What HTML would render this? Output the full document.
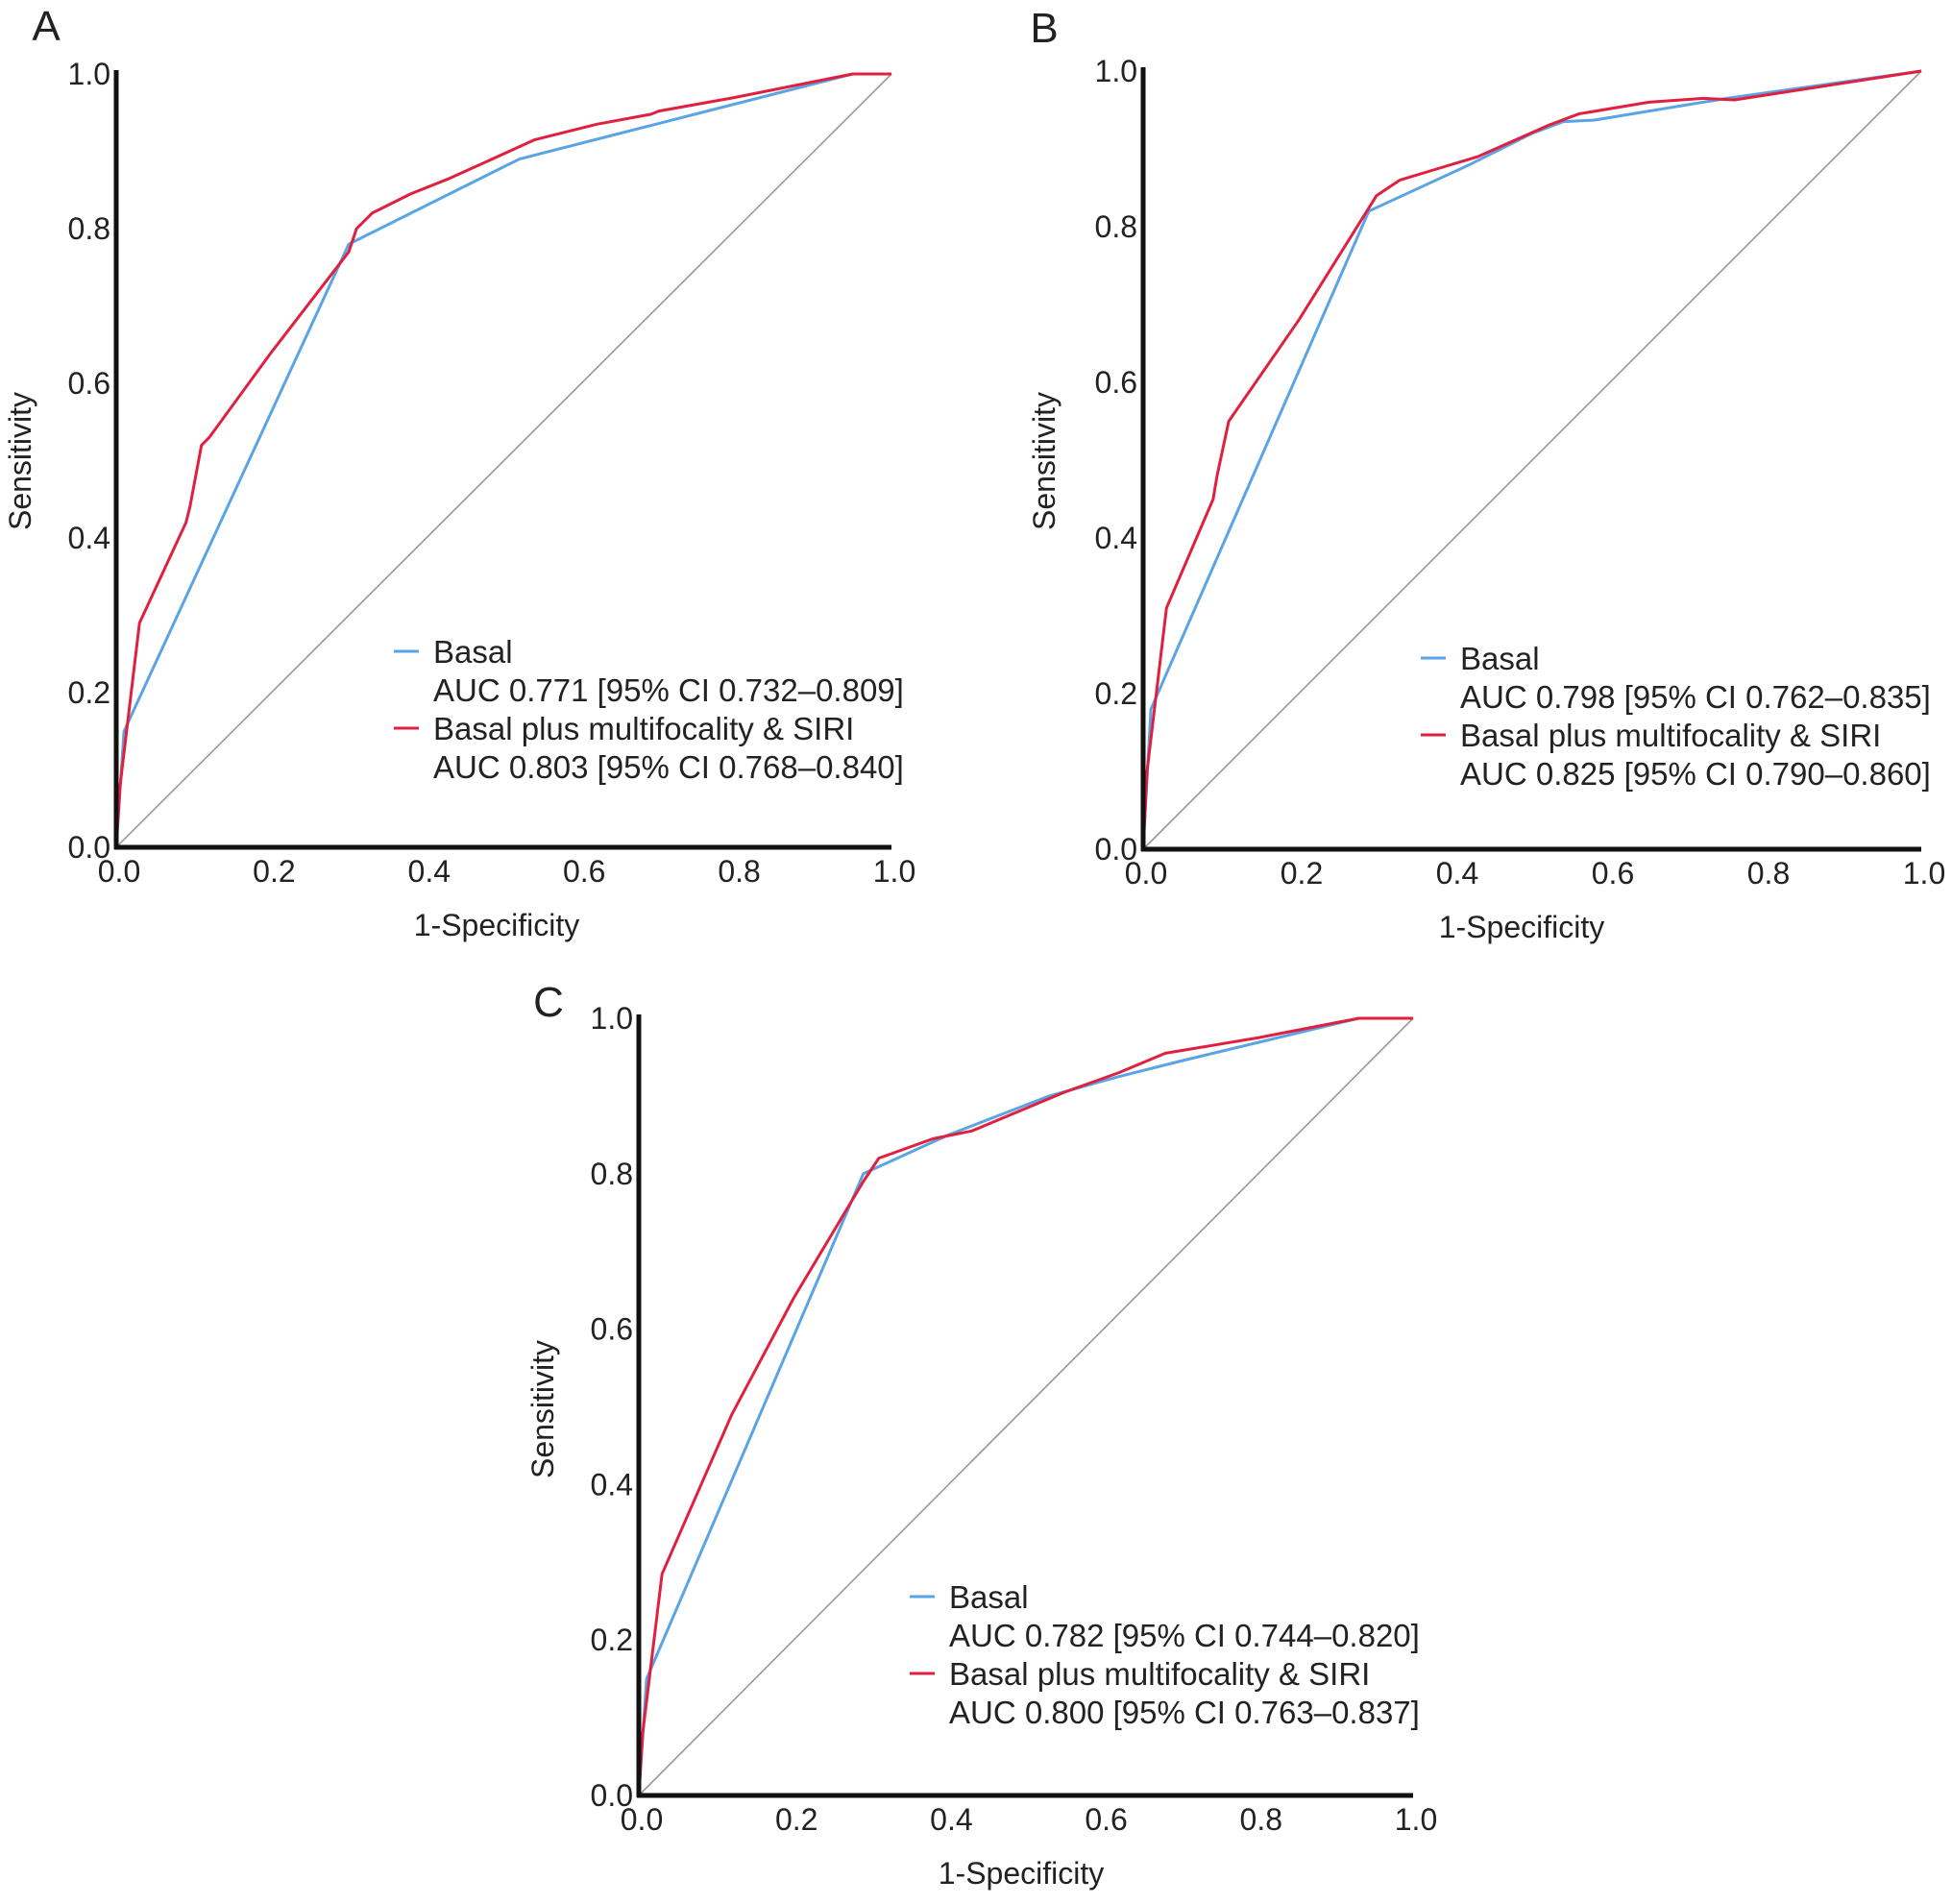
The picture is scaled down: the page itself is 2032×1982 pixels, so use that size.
<!DOCTYPE html>
<html><head><meta charset="utf-8"><style>
html,body{margin:0;padding:0;background:#fff}
svg{display:block}
text{font-family:"Liberation Sans",sans-serif;fill:#222}
</style></head><body>
<svg id="fig" width="2032" height="1982" viewBox="0 0 2032 1982" xmlns="http://www.w3.org/2000/svg"></svg>
<script>
const ticks = [0, 0.2, 0.4, 0.6, 0.8, 1.0];
const tickLabels = ["0.0","0.2","0.4","0.6","0.8","1.0"];
const seriesNames = ["Basal", "Basal plus multifocality & SIRI"];
const aBasalX = [0,0.01,0.3,0.52,0.95,1];
const aBasalY = [0,0.15,0.78,0.89,1.0,1];
const aPlusX = [0,0.005,0.03,0.09,0.095,0.11,0.12,0.2,0.3,0.31,0.33,0.38,0.43,0.54,0.62,0.69,0.7,0.8,0.95,1];
const aPlusY = [0,0.08,0.29,0.42,0.44,0.52,0.53,0.64,0.77,0.80,0.82,0.845,0.865,0.915,0.935,0.948,0.952,0.97,1.0,1];
const bBasalX = [0,0.01,0.29,0.42,0.5,0.54,0.58,0.75,1];
const bBasalY = [0,0.18,0.82,0.88,0.92,0.935,0.937,0.965,1];
const bPlusX = [0,0.005,0.03,0.09,0.095,0.11,0.2,0.3,0.33,0.38,0.43,0.52,0.56,0.65,0.72,0.76,1];
const bPlusY = [0,0.1,0.31,0.45,0.48,0.55,0.68,0.84,0.86,0.875,0.89,0.93,0.945,0.96,0.965,0.963,1];
const cBasalX = [0,0.01,0.29,0.4,0.53,0.62,0.7,0.93,1];
const cBasalY = [0,0.15,0.80,0.85,0.90,0.925,0.945,1.0,1];
const cPlusX = [0,0.005,0.03,0.12,0.2,0.29,0.31,0.38,0.43,0.55,0.62,0.68,0.8,0.93,1];
const cPlusY = [0,0.08,0.285,0.49,0.64,0.79,0.82,0.845,0.855,0.905,0.93,0.955,0.975,1.0,1];
const aucA = ["AUC 0.771 [95% CI 0.732–0.809]","AUC 0.803 [95% CI 0.768–0.840]"];
const aucB = ["AUC 0.798 [95% CI 0.762–0.835]","AUC 0.825 [95% CI 0.790–0.860]"];
const aucC = ["AUC 0.782 [95% CI 0.744–0.820]","AUC 0.800 [95% CI 0.763–0.837]"];

const NS="http://www.w3.org/2000/svg";
const svg=document.getElementById('fig');
function el(tag,attrs,parent,txt){const e=document.createElementNS(NS,tag);for(const k in attrs)e.setAttribute(k,attrs[k]);if(txt!==undefined)e.textContent=txt;(parent||svg).appendChild(e);return e;}

function panel(id,letter,x0,x1,y0,y1,pts,leg,auc,titles){
  const g=el('g',{});
  
  
  const sx=v=>x0+v*(x1-x0), sy=v=>y0-v*(y0-y1);
  const L=el('text',{x:letter[0],y:letter[1],'font-size':44,'text-anchor':'middle'},g,id.toUpperCase());
  
  const d=el('line',{x1:sx(0),y1:sy(0),x2:sx(1),y2:sy(1),stroke:'#999','stroke-width':1.6},g);
  
  const cols=['#5aa4e6','#e0203f'];
  pts.forEach((p,i)=>{
    const pl=el('polyline',{points:p[0].map((v,k)=>sx(v)+','+sy(p[1][k])).join(' '),fill:'none',stroke:cols[i],'stroke-width':3,'stroke-linejoin':'round'},g);
    
    
  });
  const ya=el('line',{x1:x0,y1:y1-4,x2:x0,y2:y0+2,stroke:'#111','stroke-width':5},g);
  
  const xa=el('line',{x1:x0-2,y1:y0,x2:x1,y2:y0,stroke:'#111','stroke-width':5},g);
  
  ticks.forEach((t,i)=>{
    const a=el('text',{x:x0-6,y:sy(t)+11,'font-size':32,'text-anchor':'end'},g,tickLabels[i]);
    
    const b=el('text',{x:sx(t)+3,y:y0+36,'font-size':32,'text-anchor':'middle'},g,tickLabels[i]);
    
  });
  const xt=el('text',{x:titles[0],y:titles[1],'font-size':32,'text-anchor':'middle'},g,'1-Specificity');
  
  const yt=el('text',{x:0,y:0,'font-size':32,'text-anchor':'middle',transform:`translate(${titles[2]},${titles[3]}) rotate(-90)`},g,'Sensitivity');
  
  seriesNames.forEach((n,i)=>{
    const yy=leg[1]+i*80;
    const ln=el('line',{x1:leg[0],y1:yy-1,x2:leg[0]+26,y2:yy-1,stroke:cols[i],'stroke-width':3},g);
    
    const t1=el('text',{x:leg[0]+41,y:yy+11,'font-size':33},g,n);
    
    const t2=el('text',{x:leg[0]+41,y:yy+51,'font-size':33},g,auc[i]);
    
  });
}
panel('a',[48,42],121,928,882,77,[[aBasalX,aBasalY],[aPlusX,aPlusY]],[410,679],aucA,[517,974,32,480]);
panel('b',[1087,44],1190,2000,884,74,[[bBasalX,bBasalY],[bPlusX,bPlusY]],[1479,686],aucB,[1584,976,1098,480]);
panel('c',[571,1058],665,1471,1869,1060,[[cBasalX,cBasalY],[cPlusX,cPlusY]],[947,1663],aucC,[1063,1961,576,1467]);
</script>
</body></html>
